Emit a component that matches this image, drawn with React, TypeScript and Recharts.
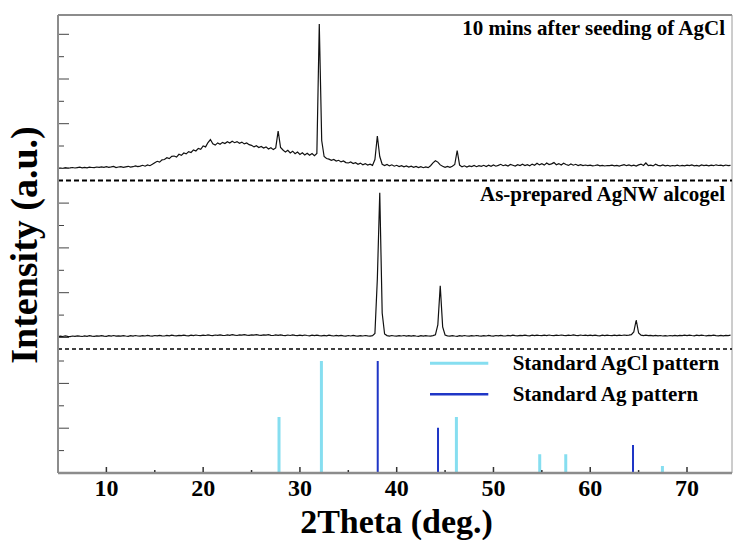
import React from 'react';
import { ComposedChart, Line, XAxis, YAxis, ReferenceLine } from 'recharts';

const W = 734;
const H = 540;
const FONT = '"Liberation Serif", "Times New Roman", serif';

// 2theta sampling grid: start and step (deg.)
const THETA_START = 5;
const THETA_STEP = 0.25;
const X_MIN = 5;
const X_MAX = 74.65;

// panel offsets (a.u.) — bottom of each stacked panel
const OFFSET_TOP = 292.5;
const OFFSET_MID = 124;
const Y_MAX = 458;

// 10 mins after seeding of AgCl
const SEEDED = [
  12.2,12.5,12.0,12.8,12.4,12.6,13.0,12.5,12.9,13.3,12.7,13.1,12.6,13.4,13.0,12.8,13.5,13.1,13.6,13.2,
  13.8,13.2,13.6,14.1,13.0,13.5,13.9,13.2,13.7,14.2,13.4,13.8,14.6,13.9,14.4,15.2,14.3,15.6,14.8,16.2,
  17.8,19.2,18.4,20.6,21.0,22.8,21.9,24.1,24.5,23.4,26.2,25.1,27.5,26.6,28.9,28.0,30.6,29.5,32.1,31.2,
  34.5,33.6,38.0,41.0,36.8,35.4,37.6,36.2,38.1,36.9,38.7,37.4,39.2,37.8,38.9,37.3,38.4,36.6,37.5,35.8,
  35.2,33.6,34.7,32.9,34.1,32.4,33.6,31.5,32.8,30.9,32.6,49.5,33.0,30.5,28.4,30.2,27.6,29.3,26.8,28.4,
  26.1,27.7,25.6,27.3,25.2,26.9,24.8,27.0,156.5,40.0,24.0,22.0,21.4,20.1,21.0,19.4,20.2,18.6,19.5,17.9,
  17.5,18.6,16.9,17.8,16.2,17.4,15.8,16.9,15.4,16.3,15.1,21.0,44.5,24.0,16.2,15.0,16.1,14.6,15.7,14.3,
  15.2,14.0,14.9,13.7,14.6,13.5,14.4,13.2,14.1,13.0,13.9,12.8,13.6,12.9,14.8,17.6,19.8,18.4,15.6,14.2,
  13.1,14.0,13.2,14.3,16.0,30.0,15.4,13.6,14.7,13.4,14.6,13.9,15.0,13.8,14.9,14.1,15.2,14.0,15.3,14.2,
  15.5,14.3,15.1,16.2,14.8,15.6,14.5,16.0,15.2,14.4,15.8,14.9,16.3,15.0,15.9,14.7,16.4,15.3,17.2,15.6,
  16.8,15.4,17.5,15.9,16.6,17.9,15.7,16.9,15.4,17.2,16.0,15.1,16.5,15.3,16.2,15.0,15.8,14.9,15.5,14.8,
  15.3,14.6,15.0,15.6,14.7,15.2,14.5,15.0,14.8,15.4,14.6,15.1,14.4,15.2,15.9,14.8,15.5,14.6,15.3,14.5,
  15.6,16.4,15.0,17.5,14.8,15.4,14.6,16.2,15.1,14.7,15.5,14.6,15.2,14.4,15.0,14.7,15.3,14.5,15.1,14.6,
  15.4,14.8,15.5,14.7,15.2,14.5,15.6,14.9,15.3,14.6,15.4,14.8,15.7,15.0,15.3,14.7,15.5,14.9,15.2,
];

// As-prepared AgNW alcogel
const ALCOGEL = [
  12.3,12.9,12.5,13.1,12.6,12.4,13.0,12.7,13.2,12.8,12.5,13.1,12.7,13.3,12.8,12.6,13.2,12.9,13.4,12.8,
  12.7,13.3,12.9,13.5,12.8,13.2,12.9,13.4,13.0,12.7,13.3,12.9,13.5,13.0,12.8,13.4,13.0,13.6,13.1,12.9,
  13.5,13.1,13.7,13.2,13.0,13.6,13.2,13.8,13.3,13.1,13.7,13.3,13.9,13.4,13.2,13.8,13.4,14.0,13.5,13.3,
  13.9,13.5,14.1,13.6,13.4,14.0,13.6,14.2,13.7,13.5,14.1,13.7,14.3,13.8,13.5,14.2,13.8,14.4,13.9,13.6,
  14.2,13.8,14.4,13.9,13.6,14.2,13.8,14.3,13.7,13.5,14.1,13.6,14.2,13.7,13.4,14.0,13.5,14.1,13.6,13.3,
  13.9,13.4,14.0,13.5,13.2,13.8,13.3,13.9,13.4,13.1,13.7,13.2,13.8,13.3,13.0,13.6,13.1,13.7,13.2,12.9,
  13.5,13.0,13.6,13.1,12.8,13.4,13.0,13.5,13.1,12.9,13.4,15.5,70.0,156.3,36.0,15.0,13.4,12.9,13.5,13.0,
  12.8,13.4,13.0,13.5,12.9,13.3,12.8,13.4,13.0,12.7,13.3,12.9,13.4,13.0,12.8,13.4,14.2,24.0,63.3,22.0,
  14.0,13.2,12.8,13.4,13.0,12.7,13.3,12.9,13.5,13.0,12.8,13.4,13.0,13.5,13.1,12.8,13.4,13.0,13.6,13.1,
  12.9,13.5,13.1,13.7,13.2,13.0,13.6,13.2,13.8,13.3,13.1,13.7,13.3,13.9,13.4,13.2,13.8,13.4,13.9,13.5,
  13.3,13.8,13.4,14.0,13.5,13.3,13.9,13.5,14.0,13.6,13.4,13.9,13.5,14.1,13.6,13.4,14.0,13.5,13.9,13.4,
  13.8,13.3,13.9,13.4,13.2,13.8,13.4,13.9,13.5,13.3,13.8,13.4,13.9,13.5,14.0,13.6,13.8,14.4,17.0,29.0,
  16.0,13.9,13.4,13.8,13.3,13.7,13.2,13.6,13.1,13.5,13.0,13.4,13.0,13.5,13.1,13.6,13.2,13.7,13.3,13.8,
  13.4,13.9,13.5,13.2,13.8,13.4,13.9,13.5,13.2,13.7,13.3,13.8,13.4,13.1,13.6,13.2,13.7,13.3,13.8,
];

// Standard patterns (relative intensity %)
const AGCL_POS = [27.84, 32.22, 46.17, 54.78, 57.47, 67.46];
const AGCL_INT = [50, 100, 50, 16.7, 16.7, 6.3];
const AG_POS = [38.04, 44.27, 64.42];
const AG_INT = [100, 40.4, 25];
const STD_SCALE = 1.12;

// axis ticks
const X_TICKS = [10, 15, 20, 25, 30, 35, 40, 45, 50, 55, 60, 65, 70];
const Y_TICKS_TOP = [304.7, 327, 349.3, 371.7, 394, 416.3, 438.7];
const Y_TICKS_MID = [135.5, 157.9, 180.3, 202.7, 225.1, 247.5, 269.9];
const Y_TICKS_BOT = [22.4, 44.8, 67.2, 89.6, 112];

const Y_TICKS = [...Y_TICKS_BOT, ...Y_TICKS_MID, ...Y_TICKS_TOP];
const MAJOR_Y = new Set<number>([
  ...Y_TICKS_TOP.filter((_, i) => i % 2 === 0),
  ...Y_TICKS_MID.filter((_, i) => i % 2 === 0),
  ...Y_TICKS_BOT.filter((_, i) => i % 2 === 1),
]);

const table = SEEDED.map((v, i) => ({
  x: THETA_START + i * THETA_STEP,
  seeded: v + OFFSET_TOP,
  alcogel: ALCOGEL[i] + OFFSET_MID,
}));

function sticks(pos: number[], ints: number[]) {
  const out: { x: number; y: number | null }[] = [];
  pos.forEach((p, i) => {
    out.push({ x: p, y: 0 });
    out.push({ x: p, y: ints[i] * STD_SCALE });
    out.push({ x: p + 0.001, y: null });
  });
  return out;
}
const agclData = sticks(AGCL_POS, AGCL_INT);
const agData = sticks(AG_POS, AG_INT);

const AXIS_GRAY = '#8c8c8c';
const CYAN = '#86def0';
const BLUE = '#1f36c6';

function XTick(props: any) {
  const { x, y, payload } = props;
  const major = payload.value % 10 === 0;
  return (
    <g>
      <line x1={x} x2={x} y1={y - 1} y2={y - (major ? 6 : 3)} stroke="#333" strokeWidth={1.5} />
      {major && (
        <text x={x} y={y + 23} textAnchor="middle" fontFamily={FONT} fontWeight="bold" fontSize={24} fill="#000">
          {payload.value}
        </text>
      )}
    </g>
  );
}

function YTick(props: any) {
  const { x, y, payload } = props;
  const major = MAJOR_Y.has(payload.value);
  return (
    <line x1={x + 1} x2={x + (major ? 11 : 6)} y1={y} y2={y} stroke="#444" strokeWidth={1} />
  );
}

export default function App() {
  return (
    <div style={{ position: 'absolute', left: 0, top: 0, width: W, height: H, background: '#fff' }}>
      <ComposedChart width={W} height={H} data={table} margin={{ top: 15, right: 2, bottom: 0, left: 0 }}>
        <XAxis
          dataKey="x"
          type="number"
          domain={[X_MIN, X_MAX]}
          ticks={X_TICKS}
          interval={0}
          height={67}
          tickSize={0}
          tickMargin={0}
          tickLine={false}
          axisLine={{ stroke: AXIS_GRAY, strokeWidth: 2.5 }}
          tick={<XTick />}
          allowDataOverflow
        />
        <YAxis
          type="number"
          domain={[0, Y_MAX]}
          ticks={Y_TICKS}
          interval={0}
          width={58}
          tickSize={0}
          tickMargin={0}
          tickLine={false}
          axisLine={{ stroke: AXIS_GRAY, strokeWidth: 2 }}
          tick={<YTick />}
          allowDataOverflow
        />
        <ReferenceLine y={Y_MAX} stroke={AXIS_GRAY} strokeWidth={2} />
        <ReferenceLine x={X_MAX} stroke="#9a9a9a" strokeWidth={1} />
        <ReferenceLine y={OFFSET_TOP} stroke="#000" strokeWidth={2} strokeDasharray="5 3" />
        <ReferenceLine y={OFFSET_MID} stroke="#000" strokeWidth={1.5} strokeDasharray="4 3" />
        <Line dataKey="seeded" stroke="#111" strokeWidth={1.2} dot={false} isAnimationActive={false} type="linear" />
        <Line dataKey="alcogel" stroke="#111" strokeWidth={1.2} dot={false} isAnimationActive={false} type="linear" />
        <Line data={agclData} dataKey="y" stroke={CYAN} strokeWidth={3} dot={false} isAnimationActive={false} type="linear" strokeLinecap="butt" />
        <Line data={agData} dataKey="y" stroke={BLUE} strokeWidth={2} dot={false} isAnimationActive={false} type="linear" strokeLinecap="butt" />
      </ComposedChart>
      <svg width={W} height={H} style={{ position: 'absolute', left: 0, top: 0, pointerEvents: 'none' }}>
        <g fontFamily={FONT} fontWeight="bold" fill="#000">
          <text x={725} y={35} fontSize={21} textAnchor="end">10 mins after seeding of AgCl</text>
          <text x={725} y={201} fontSize={21} textAnchor="end">As-prepared AgNW alcogel</text>
          <text x={512.7} y={370} fontSize={21}>Standard AgCl pattern</text>
          <text x={512.7} y={401} fontSize={21}>Standard Ag pattern</text>
          <text x={396.5} y={532.5} fontSize={34} textAnchor="middle">2Theta (deg.)</text>
          <text x={37} y={245} fontSize={38} textAnchor="middle" transform="rotate(-90 37 245)">Intensity (a.u.)</text>
        </g>
        <line x1={430} x2={488.3} y1={363.3} y2={363.3} stroke={CYAN} strokeWidth={3} />
        <line x1={430} x2={488.3} y1={394.3} y2={394.3} stroke={BLUE} strokeWidth={2.5} />
      </svg>
    </div>
  );
}
